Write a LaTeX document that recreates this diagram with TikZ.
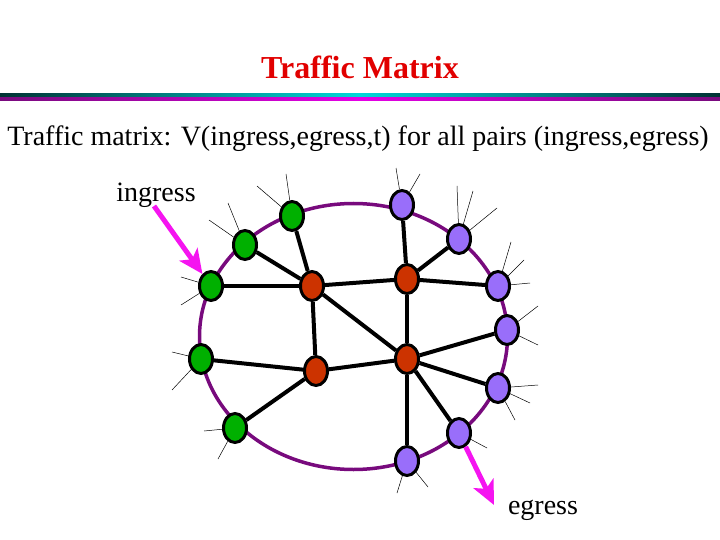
\documentclass[tikz,border=0pt]{standalone}
\usepackage{fontspec}
\setmainfont{Liberation Serif}
\usepackage{tikz}
\usetikzlibrary{shapes.geometric, arrows.meta}

\definecolor{edgegreen}{RGB}{0,176,0}
\definecolor{corered}{RGB}{204,51,0}
\definecolor{edgeviolet}{RGB}{153,110,250}
\definecolor{ringpurple}{RGB}{120,10,125}
\definecolor{titlered}{RGB}{225,0,0}
\definecolor{flowpink}{RGB}{245,20,240}

\begin{document}
\begin{tikzpicture}[x=1pt, y=-1pt, >=stealth]
    \tikzstyle{host} = [draw, line width=3pt, ellipse, minimum width=23pt,
	minimum height=29pt, inner sep=0pt]
    \tikzstyle{wire} = [line width=4pt]
    \tikzstyle{spoke} = [line width=0.5pt]
    \tikzstyle{flow} = [line width=5pt, flowpink, -{Stealth[length=24pt, width=22pt, inset=6pt]}]
    \tikzstyle{txt} = [anchor=base, inner sep=0pt, font=\fontsize{28}{30}\selectfont]
	\useasboundingbox (0,0) rectangle (720,540);

	% heading
	\node[anchor=base, text=titlered, font=\fontsize{32}{34}\selectfont\bfseries] (title) at (360,79) {Traffic Matrix};
	\shade[left color=black!60!teal, right color=black!60!teal, middle color=cyan!70!teal] (0,94) rectangle (720,97.5);
	\shade[left color=ringpurple, right color=ringpurple, middle color=magenta!80!violet] (0,97.5) rectangle (720,100.5);
	\node[txt] (sub) at (358,146) {Traffic matrix: V(ingress,egress,t) for all pairs (ingress,egress)};

	\draw[ringpurple, line width=3.5pt] (353.5,336.5) ellipse [x radius=154, y radius=133];

	\path
		node[host, fill=edgegreen] (g1) at (292,216) {}
		node[host, fill=edgegreen] (g2) at (245,245) {}
		node[host, fill=edgegreen] (g3) at (211,286) {}
		node[host, fill=edgegreen] (g4) at (201,359) {}
		node[host, fill=edgegreen] (g5) at (235,428) {}
		node[host, fill=corered] (r1) at (312,286) {}
		node[host, fill=corered] (r2) at (407,279) {}
		node[host, fill=corered] (r3) at (316,371) {}
		node[host, fill=corered] (r4) at (407,359) {}
		node[host, fill=edgeviolet] (p1) at (402,205) {}
		node[host, fill=edgeviolet] (p2) at (459,239) {}
		node[host, fill=edgeviolet] (p3) at (498,286) {}
		node[host, fill=edgeviolet] (p4) at (507,330) {}
		node[host, fill=edgeviolet] (p5) at (498,388) {}
		node[host, fill=edgeviolet] (p6) at (459,433) {}
		node[host, fill=edgeviolet] (p7) at (407,461) {}

		(g1) edge[wire] (r1)
		(g2) edge[wire] (r1)
		(g3) edge[wire] (r1)
		(r1) edge[wire] (r2)
		(r1) edge[wire] (r3)
		(r1) edge[wire] (r4)
		(r2) edge[wire] (r4)
		(r2) edge[wire] (p1)
		(r2) edge[wire] (p2)
		(r2) edge[wire] (p3)
		(g4) edge[wire] (r3)
		(g5) edge[wire] (r3)
		(r3) edge[wire] (r4)
		(r4) edge[wire] (p4)
		(r4) edge[wire] (p5)
		(r4) edge[wire] (p6)
		(r4) edge[wire] (p7)
	;

	\foreach \n/\a/\b [count=\i] in {g1/286/174, g1/257/186, g2/228/203, g2/209/220,
		g3/181/277, g3/181/305, g4/172/352, g4/172/390, g5/204/431, g5/218/459,
		p1/396/168, p1/420/174, p2/457/186, p2/473/191, p2/497/208,
		p3/511/242, p3/524/260, p3/530/283, p4/538/306, p4/538/345,
		p5/538/385, p5/530/403, p5/515/420, p6/487/448, p7/397/493, p7/428/487}
	{
		\coordinate (s\i) at (\a,\b);
		\draw[spoke] (\n) -- (s\i);
	}

	\node[txt] (ingress) at (156,202) {ingress};
	\node[txt] (egress) at (543,514) {egress};
	\coordinate (in) at (154,206);
	\coordinate (out) at (494,505);
	\draw[flow] (in) -- (g3);
	\draw[flow] (p6) -- (out);
\end{tikzpicture}
\end{document}
